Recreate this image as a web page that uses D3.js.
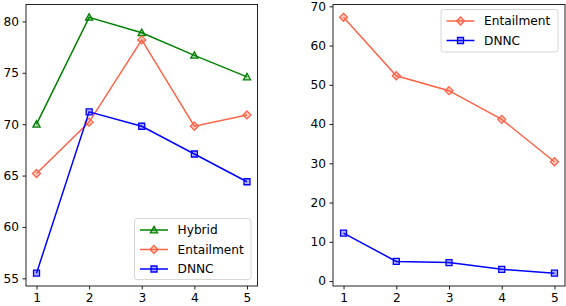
<!DOCTYPE html>
<html>
<head>
<meta charset="utf-8">
<script src="https://cdn.jsdelivr.net/npm/d3@7"></script>
<style>
  body { margin: 0; background: #fff; }
  svg text { font-family: "DejaVu Sans", sans-serif; font-size: 12.2px; fill: #000; }
</style>
</head>
<body>
<svg id="chart" width="566" height="306"></svg>
<script>
var shots = [1, 2, 3, 4, 5];

// left panel
var hybridLeft = [70.0, 80.4, 78.9, 76.7, 74.6];
var entailLeft = [65.2, 70.2, 78.2, 69.8, 70.9];
var dnncLeft = [55.5, 71.2, 69.8, 67.1, 64.4];
var leftTicks = [55, 60, 65, 70, 75, 80];

// right panel
var entailRight = [67.2, 52.3, 48.5, 41.2, 30.4];
var dnncRight = [12.2, 5.0, 4.7, 3.0, 2.0];
var rightTicks = [0, 10, 20, 30, 40, 50, 60, 70];

var colors = { Hybrid: "green", Entailment: "#ff6347", DNNC: "blue" };

// matplotlib-like markers (r = half extent in px)
var triUp = { draw: function(ctx, r) {
  ctx.moveTo(0, -r); ctx.lineTo(r, r * 0.8); ctx.lineTo(-r, r * 0.8); ctx.closePath();
}};
var diamond = { draw: function(ctx, r) {
  ctx.moveTo(0, -r); ctx.lineTo(r, 0); ctx.lineTo(0, r); ctx.lineTo(-r, 0); ctx.closePath();
}};
var square = { draw: function(ctx, r) {
  ctx.rect(-r, -r, 2 * r, 2 * r);
}};
var markers = { Hybrid: triUp, Entailment: diamond, DNNC: square };
var markerSize = { Hybrid: 3.6, Entailment: 4, DNNC: 3 };

var svg = d3.select("svg#chart");

function pad(lo, hi) {
  var m = (hi - lo) * 0.05;
  return [lo - m, hi + m];
}

function drawPanel(box, series, yTicks, legendBox) {
  var g = svg.append("g");
  var allVals = [].concat.apply([], series.map(function(s) { return s.values; }));

  var x = d3.scaleLinear().domain(pad(1, 5)).range([box.left, box.right]);
  var y = d3.scaleLinear().domain(pad(d3.min(allVals), d3.max(allVals))).range([box.bottom, box.top]);

  var line = d3.line()
      .x(function(d, i) { return x(shots[i]); })
      .y(function(d) { return y(d); });

  series.forEach(function(s) {
    g.append("path")
      .attr("d", line(s.values))
      .attr("fill", "none")
      .attr("stroke", colors[s.name])
      .attr("stroke-width", 1.5);

    var sym = d3.symbol().type(markers[s.name]).size(markerSize[s.name]);
    g.selectAll(null)
      .data(s.values)
      .enter().append("path")
      .attr("d", sym)
      .attr("transform", function(d, i) { return "translate(" + x(shots[i]) + "," + y(d) + ")"; })
      .attr("fill", colors[s.name])
      .attr("fill-opacity", 0.3)
      .attr("stroke", colors[s.name])
      .attr("stroke-width", 1.3);
  });

  // axes
  var xAxis = g.append("g")
      .attr("transform", "translate(0," + box.bottom + ")")
      .call(d3.axisBottom(x).tickValues(shots).tickSize(3.5).tickPadding(3.5).tickFormat(d3.format("d")));
  var yAxis = g.append("g")
      .attr("transform", "translate(" + box.left + ",0)")
      .call(d3.axisLeft(y).tickValues(yTicks).tickSize(3.5).tickPadding(3.5).tickFormat(d3.format("d")));
  [xAxis, yAxis].forEach(function(a) {
    a.select(".domain").remove();
    a.selectAll("line").attr("stroke", "#000").attr("stroke-width", 0.9);
    a.selectAll("text").attr("font-size", null).attr("font-family", null);
  });

  g.append("rect")
    .attr("x", box.left).attr("y", box.top)
    .attr("width", box.right - box.left).attr("height", box.bottom - box.top)
    .attr("fill", "none").attr("stroke", "#222").attr("stroke-width", 1);

  // legend
  var lg = g.append("g");
  lg.append("rect")
    .attr("x", legendBox.x).attr("y", legendBox.y)
    .attr("width", legendBox.w).attr("height", legendBox.h)
    .attr("rx", 2.5)
    .attr("fill", "#fff").attr("fill-opacity", 0.8)
    .attr("stroke", "#d6d6d6").attr("stroke-width", 1);

  series.forEach(function(s, i) {
    var cy = legendBox.y + 11.5 + i * 19.5;
    var x0 = legendBox.x + 5.5, x1 = x0 + 28;
    lg.append("line")
      .attr("x1", x0).attr("x2", x1).attr("y1", cy).attr("y2", cy)
      .attr("stroke", colors[s.name]).attr("stroke-width", 1.5);
    lg.append("path")
      .attr("d", d3.symbol().type(markers[s.name]).size(markerSize[s.name]))
      .attr("transform", "translate(" + (x0 + x1) / 2 + "," + cy + ")")
      .attr("fill", colors[s.name]).attr("fill-opacity", 0.3)
      .attr("stroke", colors[s.name]).attr("stroke-width", 1.3);
    lg.append("text")
      .attr("x", x1 + 9.5).attr("y", cy)
      .attr("dy", "0.35em")
      .text(s.name);
  });
}

drawPanel(
  { left: 26, right: 257.5, top: 4.5, bottom: 286 },
  [
    { name: "Hybrid", values: hybridLeft },
    { name: "Entailment", values: entailLeft },
    { name: "DNNC", values: dnncLeft }
  ],
  leftTicks,
  { x: 134.5, y: 218.5, w: 116.5, h: 61 }
);

drawPanel(
  { left: 333, right: 565, top: 4.5, bottom: 286 },
  [
    { name: "Entailment", values: entailRight },
    { name: "DNNC", values: dnncRight }
  ],
  rightTicks,
  { x: 441, y: 9.5, w: 117, h: 42.5 }
);
</script>
</body>
</html>
